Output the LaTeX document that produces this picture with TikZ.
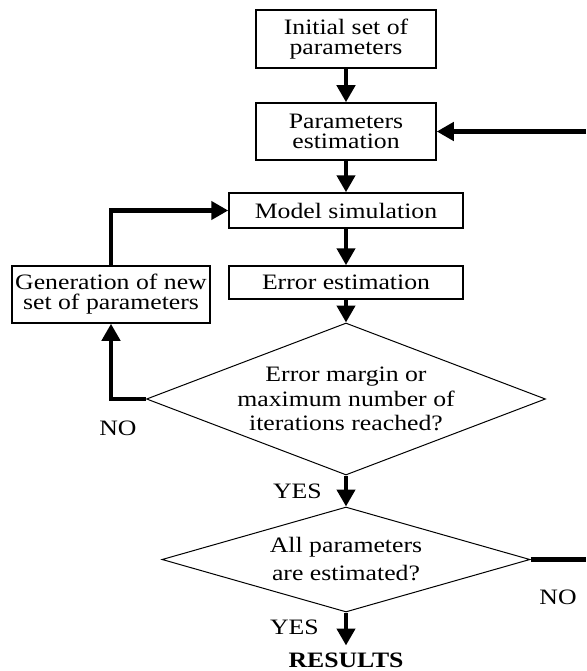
\documentclass[tikz,border=0pt]{standalone}
\usepackage{fontspec}
\setmainfont{Liberation Serif}[FakeStretch=1.17]
\usetikzlibrary{shapes.geometric, positioning, arrows.meta}
\tikzstyle{box}=[draw, line width=1.5pt, align=center, inner sep=1pt, font=\fontsize{22}{20}\selectfont]
\tikzstyle{decision}=[diamond, draw, line width=1pt, align=center, inner sep=-20pt]
\tikzstyle{flow}=[line width=4.5pt, -{Triangle[width=18pt,length=17pt]}]
\tikzstyle{lbl}=[inner sep=0pt, font=\fontsize{22}{20}\selectfont]

\begin{document}
\begin{tikzpicture}[x=1pt, y=-1pt]
            \useasboundingbox (0,0) rectangle (586,671);
            \node[box, minimum width=180pt, minimum height=58pt] (init) at (346,39) {Initial set of\\parameters};
            \node[box, minimum width=180pt, minimum height=57pt, below=33.5pt of init] (est) {Parameters\\estimation};
            \node[box, minimum width=234pt, minimum height=35pt, below=31.5pt of est] (sim) {Model simulation};
            \node[box, minimum width=234pt, minimum height=33pt, below=36.5pt of sim] (err) {Error estimation};
            \node[decision, aspect=2.6, minimum width=399pt, minimum height=152pt, font=\fontsize{22}{24.5}\selectfont] (dec1) at (346,399) {Error margin or\\maximum number of\\iterations reached?};
            \node[decision, aspect=3.5, minimum width=368pt, minimum height=105pt, font=\fontsize{22}{28}\selectfont] (dec2) at (346,559.5) {All parameters\\are estimated?};
            \node[box, minimum width=198pt, minimum height=57pt] (gen) at (111,294.5) {Generation of new\\set of parameters};
            \node[lbl, font=\fontsize{22}{20}\selectfont\bfseries] (res) at (346,660) {RESULTS};
            \node[lbl] (no1) at (118,428) {NO};
            \node[lbl] (no2) at (558,597) {NO};
            \coordinate (redge) at (586,0);

            \draw[flow] (init) -- (est);
            \draw[flow] (est) -- (sim);
            \draw[flow] (sim) -- (err);
            \draw[flow] (err) -- (dec1);
            \draw[flow] (dec1) -- node[lbl, left=22pt] {YES} (dec2);
            \draw[flow] (dec2.south) -- node[lbl, left=25pt, pos=0.45] {YES} ([yshift=-33pt]dec2.south);
            \draw[flow] (dec1.west) -| (gen.south);
            \draw[flow] (gen.north) |- (sim.west);
            \draw[flow] (est.east -| redge) -- (est.east);
            \draw[line width=4.5pt] (dec2.east) -- (dec2.east -| redge);

        \end{tikzpicture}
\end{document}
